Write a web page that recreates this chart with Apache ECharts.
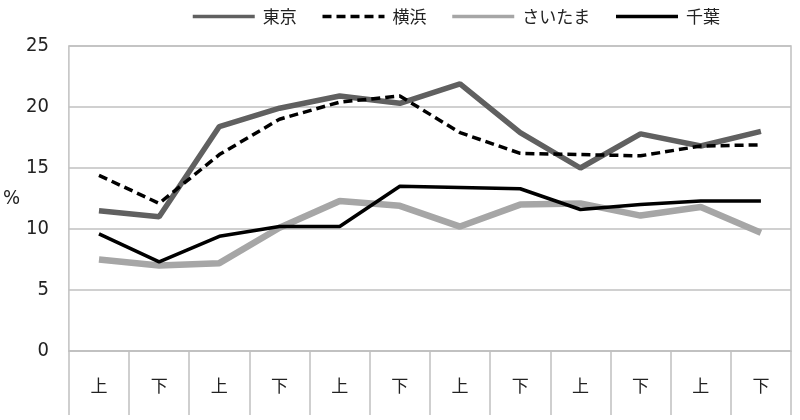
<!DOCTYPE html>
<html>
<head>
<meta charset="utf-8">
<script src="https://cdn.jsdelivr.net/npm/echarts@6/dist/echarts.min.js"></script>
<style>
html,body{margin:0;padding:0;background:#fff;}
#c{width:800px;height:420px;}
</style>
</head>
<body>
<div id="c"></div>
<script>
const categories = ['上','下','上','下','上','下','上','下','上','下','上','下'];
const tokyo    = [11.5, 11.0, 18.4, 19.9, 20.9, 20.3, 21.9, 17.9, 15.0, 17.8, 16.8, 18.0];
const yokohama = [14.4, 12.1, 16.1, 19.0, 20.4, 20.9, 17.9, 16.2, 16.1, 16.0, 16.8, 16.9];
const saitama  = [7.5, 7.0, 7.2, 10.1, 12.3, 11.9, 10.2, 12.0, 12.1, 11.1, 11.8, 9.7];
const chiba    = [9.6, 7.3, 9.4, 10.2, 10.2, 13.5, 13.4, 13.3, 11.6, 12.0, 12.3, 12.3];
const yTicks   = [0, 5, 10, 15, 20, 25];

const FONT = "'DejaVu Sans Condensed', 'Noto Sans CJK JP', sans-serif";
const CJK = "'Noto Sans CJK JP', sans-serif";
const chart = echarts.init(document.getElementById('c'));
const hide = { opacity: 0, borderWidth: 0 };
chart.setOption({
  animation: false,
  textStyle: { fontFamily: FONT },
  legend: {
    top: 3,
    left: 186,
    itemWidth: 62,
    itemHeight: 10,
    itemGap: 24,
    itemStyle: hide,
    textStyle: { fontSize: 17, color: '#222', fontFamily: CJK, padding: [0, 0, 0, 3] },
    data: [
      { name: '東京', lineStyle: { width: 3.5 }, itemStyle: hide },
      { name: '横浜', lineStyle: { width: 3.5 }, itemStyle: hide },
      { name: 'さいたま', lineStyle: { width: 3.5 }, itemStyle: hide },
      { name: '千葉', lineStyle: { width: 3.5 }, itemStyle: hide }
    ]
  },
  grid: { left: 62, right: 9, top: 46, bottom: 69, show: true, borderColor: '#c0c0c0', borderWidth: 1.5 },
  xAxis: {
    type: 'category',
    data: categories,
    boundaryGap: true,
    axisLine: { lineStyle: { color: '#c0c0c0', width: 1.5 } },
    axisTick: { show: true, interval: 0, length: 64, lineStyle: { color: '#c0c0c0', width: 1.5 } },
    axisLabel: { interval: 0, margin: 26, fontSize: 17, color: '#222', fontFamily: CJK }
  },
  yAxis: {
    type: 'value',
    min: yTicks[0],
    max: yTicks[yTicks.length - 1],
    interval: 5,
    name: '%',
    nameLocation: 'middle',
    nameRotate: 0,
    nameGap: 48,
    nameTextStyle: { fontSize: 20, color: '#222', fontFamily: FONT, padding: [0, 0, 28, 0] },
    axisLine: { show: false },
    axisTick: { show: false },
    axisLabel: { fontSize: 20, color: '#222', margin: 20, fontFamily: FONT },
    splitLine: { lineStyle: { color: '#c0c0c0', width: 1.5 } }
  },
  series: [
    { name: '東京', type: 'line', data: tokyo, symbol: 'none', z: 3,
      lineStyle: { color: '#606060', width: 5.5 }, itemStyle: { color: '#606060' } },
    { name: '横浜', type: 'line', data: yokohama, symbol: 'none', z: 5,
      lineStyle: { color: '#000', width: 3.5, type: [9, 5] }, itemStyle: { color: '#000' } },
    { name: 'さいたま', type: 'line', data: saitama, symbol: 'none', z: 2,
      lineStyle: { color: '#a6a6a6', width: 6.5 }, itemStyle: { color: '#a6a6a6' } },
    { name: '千葉', type: 'line', data: chiba, symbol: 'none', z: 4,
      lineStyle: { color: '#000', width: 3.5 }, itemStyle: { color: '#000' } }
  ]
});
</script>
</body>
</html>
